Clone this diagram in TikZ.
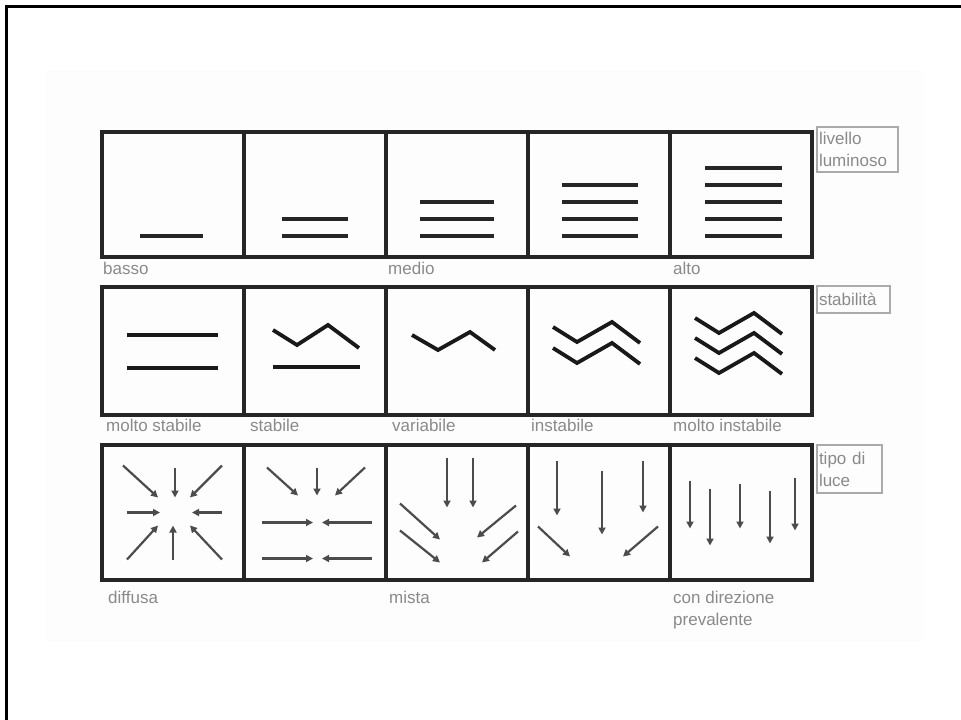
\documentclass[tikz,border=0pt]{standalone}
\usepackage{fontspec}
\setmainfont{Liberation Sans}
\usetikzlibrary{positioning,arrows.meta}
\definecolor{FrameGrey}{HTML}{262626}
\definecolor{LabelGrey}{HTML}{8A8A8A}
\definecolor{TagGrey}{HTML}{ABABAB}
\definecolor{PaperTint}{HTML}{FDFDFD}

\begin{document}
\begin{tikzpicture}[x=1pt,y=-1pt,node distance=0pt,
  every node/.style={font=\fontsize{17}{22}\selectfont,text=LabelGrey},
  cell/.style={draw=FrameGrey,line width=4pt,minimum width=142pt,inner sep=0pt,outer sep=0pt},
  lvl/.style={line width=4pt,black!85},
  wave/.style={line width=3.8pt,black!90},
  ray/.style={line width=2.2pt,black!70,-{Triangle[length=7pt,width=7pt]}},
  lbl/.style={anchor=north west,inner sep=1pt,align=left},
  tag/.style={draw=TagGrey,line width=2.5pt,anchor=north west,inner sep=2pt,outer sep=0pt,align=left}]
  \useasboundingbox (0,0) rectangle (961,720);
  \fill[PaperTint] (46,70) rectangle (923,642);
  \draw[line width=3pt] (6,720) -- (6,6) -- (961,6);

  % livello luminoso
  \node[cell,minimum height=125pt] (l1) at (173,194.5) {};
  \node[cell,minimum height=125pt,right=of l1] (l2) {};
  \node[cell,minimum height=125pt,right=of l2] (l3) {};
  \node[cell,minimum height=125pt,right=of l3] (l4) {};
  \node[cell,minimum height=125pt,right=of l4] (l5) {};
  \draw[lvl] ([shift={(-33,41)}]l1.center) -- ([shift={(30,41)}]l1.center);
  \draw[lvl] ([shift={(-33,24)}]l2.center) -- ([shift={(33,24)}]l2.center);
  \draw[lvl] ([shift={(-33,41)}]l2.center) -- ([shift={(33,41)}]l2.center);
  \draw[lvl] ([shift={(-37,7)}]l3.center) -- ([shift={(37,7)}]l3.center);
  \draw[lvl] ([shift={(-37,24)}]l3.center) -- ([shift={(37,24)}]l3.center);
  \draw[lvl] ([shift={(-37,41)}]l3.center) -- ([shift={(37,41)}]l3.center);
  \draw[lvl] ([shift={(-37,-10)}]l4.center) -- ([shift={(39,-10)}]l4.center);
  \draw[lvl] ([shift={(-37,7)}]l4.center) -- ([shift={(39,7)}]l4.center);
  \draw[lvl] ([shift={(-37,24)}]l4.center) -- ([shift={(39,24)}]l4.center);
  \draw[lvl] ([shift={(-37,41)}]l4.center) -- ([shift={(39,41)}]l4.center);
  \draw[lvl] ([shift={(-36,-27)}]l5.center) -- ([shift={(41,-27)}]l5.center);
  \draw[lvl] ([shift={(-36,-10)}]l5.center) -- ([shift={(41,-10)}]l5.center);
  \draw[lvl] ([shift={(-36,7)}]l5.center) -- ([shift={(41,7)}]l5.center);
  \draw[lvl] ([shift={(-36,24)}]l5.center) -- ([shift={(41,24)}]l5.center);
  \draw[lvl] ([shift={(-36,41)}]l5.center) -- ([shift={(41,41)}]l5.center);
  \node[lbl] (basso) at ([yshift=-4pt]l1.south west) {basso};
  \node[lbl] (medio) at ([xshift=1pt,yshift=-4pt]l3.south west) {medio};
  \node[lbl] (alto) at ([xshift=2pt,yshift=-4pt]l5.south west) {alto};
  \node[tag,text width=77pt,minimum height=45pt] (livello) at ([xshift=5pt,yshift=5pt]l5.north east) {livello\\luminoso};

  % stabilita
  \node[cell,minimum height=128pt] (s1) at (173,351) {};
  \node[cell,minimum height=128pt,right=of s1] (s2) {};
  \node[cell,minimum height=128pt,right=of s2] (s3) {};
  \node[cell,minimum height=128pt,right=of s3] (s4) {};
  \node[cell,minimum height=128pt,right=of s4] (s5) {};
  \begin{scope}[shift={(s1.center)}]
    \draw[wave] (-46,-16) -- (45,-16);
    \draw[wave] (-46,17) -- (45,17);
  \end{scope}
  \begin{scope}[shift={(s2.center)}]
    \draw[wave] (-42,-21) -- (-18,-6) -- (13,-26) -- (44,-3);
    \draw[wave] (-42,16) -- (45,16);
  \end{scope}
  \begin{scope}[shift={(s3.center)}]
    \draw[wave] (-45,-16) -- (-19,-1) -- (13,-19) -- (38,-1);
  \end{scope}
  \begin{scope}[shift={(s4.center)}]
    \draw[wave] (-46,-24) -- (-22,-9) -- (13,-29) -- (41,-8);
    \draw[wave] (-46,-3) -- (-22,12) -- (13,-8) -- (41,13);
  \end{scope}
  \begin{scope}[shift={(s5.center)}]
    \draw[wave] (-46,-33) -- (-22,-18) -- (13,-38) -- (41,-17);
    \draw[wave] (-46,-13) -- (-22,2) -- (13,-18) -- (41,3);
    \draw[wave] (-46,7) -- (-22,22) -- (13,2) -- (41,23);
  \end{scope}
  \node[lbl] (moltostab) at ([xshift=3pt,yshift=-3pt]s1.south west) {molto stabile};
  \node[lbl] (stab) at ([xshift=5pt,yshift=-3pt]s2.south west) {stabile};
  \node[lbl] (var) at ([xshift=5pt,yshift=-3pt]s3.south west) {variabile};
  \node[lbl] (instab) at ([xshift=2pt,yshift=-3pt]s4.south west) {instabile};
  \node[lbl] (moltoinstab) at ([xshift=2pt,yshift=-3pt]s5.south west) {molto instabile};
  \node[tag,text width=69pt,minimum height=27pt] (stabilita) at ([xshift=5pt,yshift=1pt]s5.north east) {stabilità};

  % tipo di luce
  \node[cell,minimum height=135pt] (t1) at (173,512.5) {};
  \node[cell,minimum height=135pt,right=of t1] (t2) {};
  \node[cell,minimum height=135pt,right=of t2] (t3) {};
  \node[cell,minimum height=135pt,right=of t3] (t4) {};
  \node[cell,minimum height=135pt,right=of t4] (t5) {};
  \begin{scope}[shift={(t1.center)}]
    \draw[ray] (-50,-47) -- (-15,-15);
    \draw[ray] (2,-45) -- (2,-15);
    \draw[ray] (49,-47) -- (17,-15);
    \draw[ray] (-46,0) -- (-13,0);
    \draw[ray] (49,0) -- (19,0);
    \draw[ray] (-46,47) -- (-15,13);
    \draw[ray] (0,47) -- (0,13);
    \draw[ray] (49,47) -- (17,13);
  \end{scope}
  \begin{scope}[shift={(t2.center)}]
    \draw[ray] (-48,-45) -- (-17,-17);
    \draw[ray] (2,-45) -- (2,-17);
    \draw[ray] (50,-45) -- (20,-17);
    \draw[ray] (-53,10) -- (-2,10);
    \draw[ray] (57,10) -- (7,10);
    \draw[ray] (-53,46) -- (-2,46);
    \draw[ray] (57,46) -- (7,46);
  \end{scope}
  \begin{scope}[shift={(t3.center)}]
    \draw[ray] (-10,-55) -- (-10,-5);
    \draw[ray] (16,-55) -- (16,-5);
    \draw[ray] (-57,-9) -- (-17,27);
    \draw[ray] (-57,18) -- (-17,50);
    \draw[ray] (59,-7) -- (20,25);
    \draw[ray] (61,19) -- (25,50);
  \end{scope}
  \begin{scope}[shift={(t4.center)}]
    \draw[ray] (-42,-52) -- (-42,3);
    \draw[ray] (3,-42) -- (3,22);
    \draw[ray] (44,-52) -- (44,0);
    \draw[ray] (-61,14) -- (-29,44);
    \draw[ray] (59,14) -- (24,44);
  \end{scope}
  \begin{scope}[shift={(t5.center)}]
    \draw[ray] (-51,-32) -- (-51,16);
    \draw[ray] (-31,-24) -- (-31,33);
    \draw[ray] (-1,-29) -- (-1,16);
    \draw[ray] (29,-22) -- (29,31);
    \draw[ray] (54,-35) -- (54,18);
  \end{scope}
  \node[lbl] (diffusa) at ([xshift=5pt,yshift=-10pt]t1.south west) {diffusa};
  \node[lbl] (mista) at ([xshift=2pt,yshift=-10pt]t3.south west) {mista};
  \node[lbl] (direz) at ([xshift=2pt,yshift=-10pt]t5.south west) {con direzione\\prevalente};
  \node[tag,text width=61pt,minimum height=48pt] (tipo) at ([xshift=5pt]t5.north east) {tipo di\\luce};
\end{tikzpicture}
\end{document}
